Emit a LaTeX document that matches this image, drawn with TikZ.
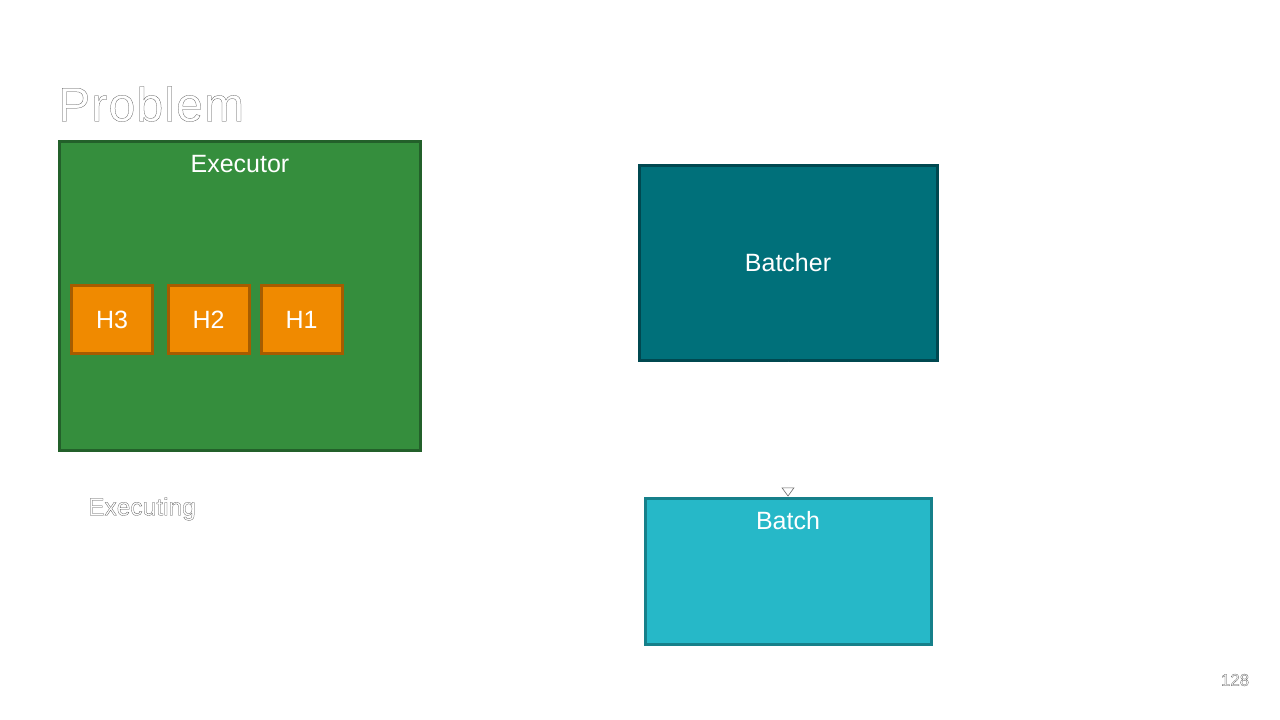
\documentclass[tikz,border=0pt]{standalone}
\usepackage{fontspec}
\setmainfont{Liberation Sans}
\usetikzlibrary{arrows.meta}
\definecolor{exfill}{RGB}{53,142,61}
\definecolor{exdraw}{RGB}{35,96,42}
\definecolor{hfill}{RGB}{240,138,0}
\definecolor{hdraw}{RGB}{166,92,0}
\definecolor{btfill}{RGB}{0,112,122}
\definecolor{btdraw}{RGB}{0,72,80}
\definecolor{bfill}{RGB}{38,184,200}
\definecolor{bdraw}{RGB}{22,128,138}
\newcommand{\outlinetext}[1]{\special{pdf:literal direct 1 Tr 0.25 w 0.3 G}#1\special{pdf:literal direct 0 Tr 0 G}}
\tikzset{
  box/.style={draw, line width=3pt, inner sep=0pt},
  hbox/.style={box, fill=hfill, draw=hdraw, minimum width=81pt, minimum height=68pt, text=white, font=\fontsize{25}{29}\selectfont, text height=18pt, text depth=0pt},
  lbl/.style={text=white, font=\fontsize{25}{29}\selectfont, inner sep=0pt},
}
\begin{document}
\begin{tikzpicture}[x=1pt,y=-1pt]
\useasboundingbox (0,0) rectangle (1280,720);
\fill[white] (0,0) rectangle (1280,720);
\node[anchor=west, inner sep=0pt, font=\fontsize{48}{56}\selectfont\addfontfeature{LetterSpace=2.5}] (title) at (58,104) {\outlinetext{Problem}};
% Executor
\draw[box, fill=exfill, draw=exdraw] (59,141) rectangle (420,450);
\node[lbl] (exlbl) at (240,164) {Executor};
\node[hbox] (h3) at (112,319) {H3};
\node[hbox] (h2) at (208.5,319) {H2};
\node[hbox] (h1) at (301.5,319) {H1};
% Executing
\node[draw=white, line width=0.5pt, minimum width=194pt, minimum height=200pt, inner sep=0pt] (exec) at (150,589) {};
\node[anchor=west, inner sep=0pt, font=\fontsize{24.5}{28}\selectfont] (execlbl) at (88,509) {\outlinetext{Executing}};
% Batcher
\node[box, fill=btfill, draw=btdraw, minimum width=298pt, minimum height=195pt, text=white, font=\fontsize{25}{29}\selectfont] (batcher) at (788,262.5) {Batcher};
% Batch
\node[box, fill=bfill, draw=bdraw, minimum width=286pt, minimum height=146pt] (batch) at (788,571) {};
\node[lbl] (batchlbl) at (788,521) {Batch};
\draw[white, line width=0.5pt, -{Triangle[open, length=9pt, width=13pt, color=black!60, fill=white, line width=0.6pt]}] (batcher.south) -- (batch.north);
% page number
\node[inner sep=0pt, font=\fontsize{17}{20}\selectfont] (pnum) at (1235,680) {\outlinetext{128}};
\end{tikzpicture}
\end{document}
